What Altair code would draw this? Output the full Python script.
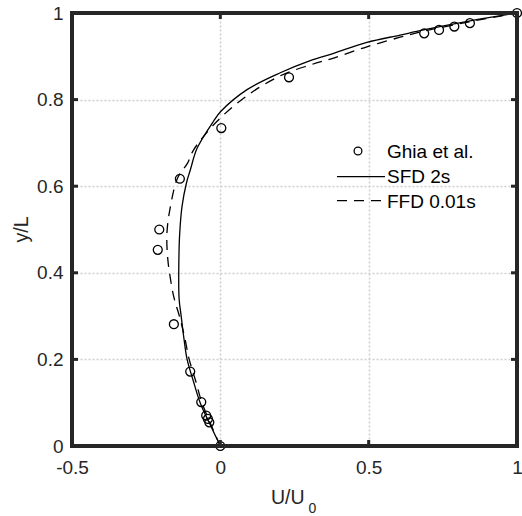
import altair as alt
import pandas as pd

# Ghia et al. reference data (u along vertical centreline)
ghia_y = [1.0, 0.9766, 0.9688, 0.9609, 0.9531, 0.8516, 0.7344, 0.6172, 0.5, 0.4531,
          0.2813, 0.1719, 0.1016, 0.0703, 0.0625, 0.0547, 0.0]
ghia_u = [1.0, 0.84123, 0.78871, 0.73722, 0.68717, 0.23151, 0.00332, -0.13641, -0.20581,
          -0.21090, -0.15662, -0.10150, -0.06434, -0.04775, -0.04192, -0.03717, 0.0]

# SFD 2s (solid)
sfd_y = [0.0, 0.05, 0.1, 0.15, 0.2, 0.25, 0.3, 0.34, 0.415, 0.49, 0.554, 0.608, 0.638,
         0.688, 0.75, 0.773, 0.823, 0.862, 0.890, 0.907, 0.932, 0.949, 0.961, 0.982, 1.0]
sfd_u = [0.0, -0.035, -0.068, -0.091, -0.112, -0.123, -0.132, -0.139, -0.140, -0.137,
         -0.129, -0.114, -0.101, -0.078, -0.023, 0.002, 0.090, 0.202, 0.303, 0.382,
         0.494, 0.606, 0.685, 0.842, 1.0]

# FFD 0.01s (dashed)
ffd_y = [0.0, 0.05, 0.1, 0.15, 0.2, 0.25, 0.3, 0.339, 0.377, 0.431, 0.492, 0.554, 0.619,
         0.654, 0.684, 0.75, 0.809, 0.855, 0.880, 0.896, 0.922, 0.944, 0.958, 0.98, 1.0]
ffd_u = [0.0, -0.032, -0.062, -0.083, -0.105, -0.120, -0.138, -0.155, -0.166, -0.177,
         -0.180, -0.168, -0.144, -0.110, -0.090, -0.011, 0.090, 0.202, 0.303, 0.382,
         0.494, 0.606, 0.685, 0.842, 1.0]

x_ticks = [-0.5, 0, 0.5, 1]
y_ticks = [0, 0.2, 0.4, 0.6, 0.8, 1]
legend_labels = ["Ghia et al.", "SFD 2s", "FFD 0.01s"]
x_title_main = "U/U"
x_title_sub = "0"
y_title = "y/L"

FONT = "Liberation Sans"
INK = "#262626"
W, H = 445, 433

xs = alt.Scale(domain=[-0.5, 1], nice=False, zero=False)
ys = alt.Scale(domain=[0, 1], nice=False, zero=False)

common_axis = dict(grid=True, gridDash=[2, 2], gridColor="#cfcfcf", gridWidth=1.5,
                   domain=False, ticks=False, labelFont=FONT, labelFontSize=19,
                   labelColor=INK, labelExpr="toString(datum.value)",
                   labelFlush=False, labelOverlap=False, title=None)
x_axis = alt.Axis(values=x_ticks, labelPadding=12, **common_axis)
y_axis = alt.Axis(values=y_ticks, labelPadding=9, **common_axis)


def X(f):
    return alt.X(f, type="quantitative", scale=xs, axis=x_axis)


def Y(f):
    return alt.Y(f, type="quantitative", scale=ys, axis=y_axis)


def label(text):
    return alt.Chart(pd.DataFrame({"t": [text]}))


sfd = pd.DataFrame({"u": sfd_u, "y": sfd_y})
ffd = pd.DataFrame({"u": ffd_u, "y": ffd_y})
ghia = pd.DataFrame({"u": ghia_u, "y": ghia_y})

sfd_line = alt.Chart(sfd).mark_line(color="black", strokeWidth=1.3,
                                    interpolate="catmull-rom").encode(
    x=X("u"), y=Y("y"), order=alt.Order("y:Q"))
ffd_line = alt.Chart(ffd).mark_line(color="black", strokeWidth=1.3, strokeDash=[10, 7],
                                    interpolate="catmull-rom").encode(
    x=X("u"), y=Y("y"), order=alt.Order("y:Q"))
ghia_pts = alt.Chart(ghia).mark_point(shape="circle", size=80, filled=False,
                                      color="black", strokeWidth=1.3, opacity=1).encode(
    x=X("u"), y=Y("y"))

# inward ticks on all four sides
xt = pd.DataFrame({"v": x_ticks})
yt = pd.DataFrame({"v": y_ticks})
tick_style = dict(color=INK, strokeWidth=3)
xt_bottom = alt.Chart(xt).mark_rule(**tick_style).encode(
    x=X("v"), y=alt.value(H), y2=alt.value(H - 6))
xt_top = alt.Chart(xt).mark_rule(**tick_style).encode(
    x=X("v"), y=alt.value(0), y2=alt.value(6))
yt_left = alt.Chart(yt).mark_rule(**tick_style).encode(
    y=Y("v"), x=alt.value(0), x2=alt.value(6))
yt_right = alt.Chart(yt).mark_rule(**tick_style).encode(
    y=Y("v"), x=alt.value(W), x2=alt.value(W - 6))

# box frame
box_style = dict(color=INK, strokeWidth=4, strokeCap="square")
box_top = label("").mark_rule(**box_style).encode(x=alt.value(0), x2=alt.value(W), y=alt.value(0))
box_bot = label("").mark_rule(**box_style).encode(x=alt.value(0), x2=alt.value(W), y=alt.value(H))
box_left = label("").mark_rule(**box_style).encode(y=alt.value(0), y2=alt.value(H), x=alt.value(0))
box_right = label("").mark_rule(**box_style).encode(y=alt.value(0), y2=alt.value(H), x=alt.value(W))

# legend
leg_circle = label(legend_labels[0]).mark_point(
    shape="circle", size=60, filled=False, color="black", strokeWidth=1.3, opacity=1
).encode(x=alt.value(286), y=alt.value(138))
leg_solid = label(legend_labels[1]).mark_rule(color="black", strokeWidth=1.3).encode(
    x=alt.value(265), x2=alt.value(313), y=alt.value(163.7))
leg_dash = label(legend_labels[2]).mark_rule(
    color="black", strokeWidth=1.3, strokeDash=[10, 7]).encode(
    x=alt.value(265), x2=alt.value(313), y=alt.value(187.7))
text_style = dict(align="left", baseline="alphabetic", font=FONT, fontSize=19, color="black")
leg_t0 = label(legend_labels[0]).mark_text(**text_style).encode(
    text="t:N", x=alt.value(315), y=alt.value(145.3))
leg_t1 = label(legend_labels[1]).mark_text(**text_style).encode(
    text="t:N", x=alt.value(315), y=alt.value(170.3))
leg_t2 = label(legend_labels[2]).mark_text(**text_style).encode(
    text="t:N", x=alt.value(315), y=alt.value(195.3))

# axis titles
xtitle = label(x_title_main).mark_text(
    align="right", baseline="alphabetic", font=FONT, fontSize=19.5, color=INK
).encode(text="t:N", x=alt.value(232.5), y=alt.value(491))
xtitle_sub = label(x_title_sub).mark_text(
    align="left", baseline="alphabetic", font=FONT, fontSize=14, color=INK
).encode(text="t:N", x=alt.value(236.5), y=alt.value(500))
ytitle = label(y_title).mark_text(
    align="center", baseline="alphabetic", font=FONT, fontSize=19.5, color=INK, angle=270
).encode(text="t:N", x=alt.value(-44), y=alt.value(H / 2))

chart = alt.layer(
    sfd_line, ffd_line, ghia_pts,
    box_top, box_bot, box_left, box_right,
    xt_bottom, xt_top, yt_left, yt_right,
    leg_circle, leg_solid, leg_dash, leg_t0, leg_t1, leg_t2,
    xtitle, xtitle_sub, ytitle,
).properties(
    width=W, height=H,
    autosize=alt.AutoSizeParams(type="none"),
    padding={"left": 72, "top": 13, "right": 5, "bottom": 70},
    background="white",
).configure_view(stroke=None)

chart.save("out.html", embed_options={"renderer": "svg", "actions": False})
